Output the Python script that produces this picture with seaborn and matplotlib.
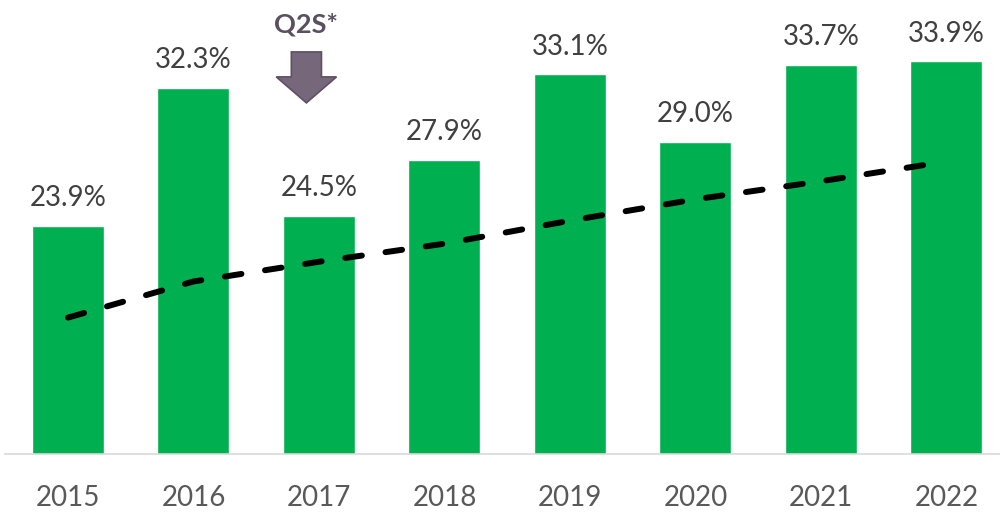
import numpy as np
import matplotlib
matplotlib.use("Agg")
import matplotlib.pyplot as plt
import seaborn as sns

# === Data ===
years = ["2015", "2016", "2017", "2018", "2019", "2020", "2021", "2022"]
share = [23.9, 32.3, 24.5, 27.9, 33.1, 29.0, 33.7, 33.9]
# trend line, one value per year
trend = [18.3, 20.5, 21.7, 22.8, 24.2, 25.5, 26.6, 27.8]
note_text = "Q2S*"
note_year = "2017"

# === Style ===
sns.set_theme(style="white")
plt.rcParams['font.family'] = ['Lato', 'DejaVu Sans']

fig = plt.figure(figsize=(10, 5.13), dpi=100)
ax = fig.add_axes([0.0052, 0.115, 1.004, 0.885])

sns.barplot(x=years, y=share, color="#00B050", width=0.574,
            saturation=1, ax=ax)

# trend line
sns.lineplot(x=np.arange(len(years)), y=trend, color="black",
             linewidth=4.3, ax=ax)
line = ax.lines[-1]
line.set_dashes([2.8, 4.0])
line.set_dash_capstyle("round")

# value labels
ax.bar_label(ax.containers[0], labels=[f"{v:.1f}%" for v in share],
             padding=10.5, fontsize=20, color="#404040")

# Q2S annotation with down arrow
nx = years.index(note_year) - 0.1
ax.arrow(nx, 34.47, 0, -3.1, width=0.24, head_width=0.48, head_length=1.58,
         length_includes_head=True, fc="#76677a", ec="#5f5064", lw=1.2)
ax.text(nx, 35.68, note_text, ha="center", va="baseline", fontsize=19.5,
        fontweight="bold", color="#5a5060")

# === Axes ===
ax.set_ylim(10, 37.63)
ax.set_xlim(-0.5, 7.5)
ax.set_yticks([])
ax.set_xlabel("")
ax.set_ylabel("")
ax.tick_params(axis="x", length=0, pad=22, labelsize=20, labelcolor="#595959")
for s in ["left", "right", "top"]:
    ax.spines[s].set_visible(False)
ax.spines["bottom"].set_color("#d9d9d9")
ax.spines["bottom"].set_linewidth(1.2)

fig.savefig("out.png", dpi=100)
